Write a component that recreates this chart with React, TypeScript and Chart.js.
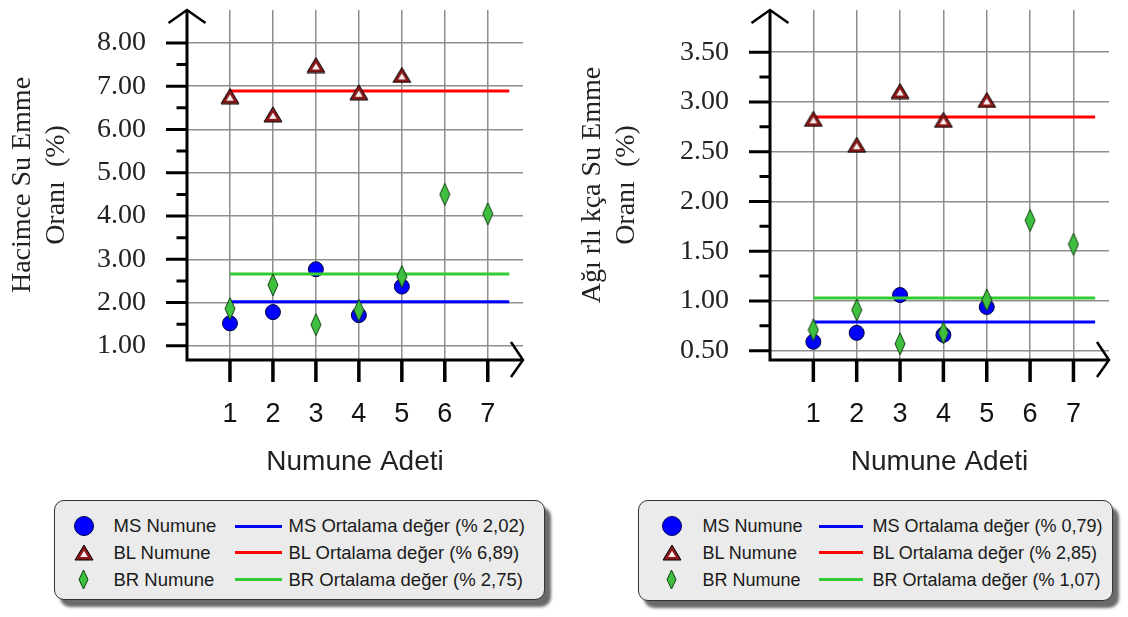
import React, { useEffect, useRef } from 'react';
import { Chart, registerables } from 'chart.js';

Chart.register(...registerables);

// ---------------- DATA ----------------
const categories = [1, 2, 3, 4, 5, 6, 7];
const meanLineSpan = [1, 7.5];

// Left chart: Hacimce Su Emme Oranı (%)
const volMS = [1.52, 1.78, 2.77, 1.71, 2.37];
const volBL = [6.77, 6.35, 7.49, 6.86, 7.26];
const volBR = [1.86, 2.41, 1.49, 1.82, 2.6, 4.5, 4.05];
const volMeanMS = 2.02;
const volMeanBL = 6.89;
const volMeanBR = 2.66;
const volTicks = [1, 2, 3, 4, 5, 6, 7, 8];
const volMinorTicks = [1.5, 2.5, 3.5, 4.5, 5.5, 6.5, 7.5];
const volTitle = ['Hacimce Su Emme', 'Oranı  (%)'];
const volLegend = [
  'MS Numune', 'MS Ortalama değer (% 2,02)',
  'BL Numune', 'BL Ortalama değer (% 6,89)',
  'BR Numune', 'BR Ortalama değer (% 2,75)',
];

// Right chart: Ağırlıkça Su Emme Oranı (%)
const wtMS = [0.59, 0.68, 1.06, 0.66, 0.94];
const wtBL = [2.83, 2.57, 3.11, 2.82, 3.02];
const wtBR = [0.71, 0.91, 0.57, 0.68, 1.01, 1.81, 1.57];
const wtMeanMS = 0.79;
const wtMeanBL = 2.85;
const wtMeanBR = 1.03;
const wtTicks = [0.5, 1, 1.5, 2, 2.5, 3, 3.5];
const wtMinorTicks = [0.75, 1.25, 1.75, 2.25, 2.75, 3.25];
const wtTitle = ['Ağı rlı kça Su Emme', 'Oranı  (%)'];
const wtLegend = [
  'MS Numune', 'MS Ortalama değer (% 0,79)',
  'BL Numune', 'BL Ortalama değer (% 2,85)',
  'BR Numune', 'BR Ortalama değer (% 1,07)',
];

const xTitle = 'Numune Adeti';

// ---------------- STYLE ----------------
const SERIF = "'Liberation Serif', 'Times New Roman', serif";
const SANS = "'Liberation Sans', Arial, sans-serif";
const GRID = '#8e8e8e';
const BLUE = '#0000ff';
const RED = '#ff0000';
const GREEN = '#33cc33';

function makeTriangle(): HTMLCanvasElement {
  const c = document.createElement('canvas');
  c.width = 20; c.height = 17;
  const g = c.getContext('2d')!;
  g.beginPath(); g.moveTo(10, 1); g.lineTo(19, 16); g.lineTo(1, 16); g.closePath();
  g.fillStyle = '#8b1717'; g.fill();
  g.strokeStyle = '#000'; g.lineWidth = 1; g.stroke();
  const cx = 10, cy = 11, k = 0.42;
  const p = [[10, 1], [19, 16], [1, 16]].map(([x, y]) => [cx + (x - cx) * k, cy + (y - cy) * k]);
  g.beginPath(); g.moveTo(p[0][0], p[0][1]); g.lineTo(p[1][0], p[1][1]); g.lineTo(p[2][0], p[2][1]); g.closePath();
  g.fillStyle = '#f4eeee'; g.fill();
  return c;
}

function makeDiamond(): HTMLCanvasElement {
  const c = document.createElement('canvas');
  c.width = 12; c.height = 24;
  const g = c.getContext('2d')!;
  g.beginPath(); g.moveTo(6, 1); g.lineTo(11, 12); g.lineTo(6, 23); g.lineTo(1, 12); g.closePath();
  g.fillStyle = '#3fbf3f'; g.fill();
  g.strokeStyle = '#0e3e0e'; g.lineWidth = 1; g.stroke();
  return c;
}

const axesPlugin = {
  id: 'arrowAxes',
  afterDraw(chart: any, _args: any, opts: any) {
    const { ctx, chartArea } = chart;
    const { left, right, top, bottom } = chartArea;
    const x = chart.scales.x;
    const y = chart.scales.y;
    ctx.save();
    ctx.strokeStyle = '#000';
    ctx.lineWidth = 3;
    ctx.beginPath();
    ctx.moveTo(left, bottom + 1.5); ctx.lineTo(left, top + 1);
    ctx.moveTo(left - 1.5, bottom); ctx.lineTo(right - 1, bottom);
    ctx.stroke();
    ctx.lineWidth = 2.5;
    ctx.lineJoin = 'miter';
    ctx.beginPath();
    ctx.moveTo(left - 18.5, top + 13); ctx.lineTo(left, top); ctx.lineTo(left + 18.5, top + 13);
    ctx.stroke();
    ctx.beginPath();
    ctx.moveTo(right - 12, bottom - 18); ctx.lineTo(right, bottom); ctx.lineTo(right - 12, bottom + 17);
    ctx.stroke();
    ctx.lineWidth = 3.5;
    ctx.beginPath();
    x.ticks.forEach((t: any) => {
      const px = x.getPixelForValue(t.value);
      ctx.moveTo(px, bottom); ctx.lineTo(px, bottom + 22);
    });
    ctx.stroke();
    ctx.lineWidth = 3;
    ctx.beginPath();
    y.ticks.forEach((t: any) => {
      const py = y.getPixelForValue(t.value);
      ctx.moveTo(left - 21, py); ctx.lineTo(left, py);
    });
    (opts.minor || []).forEach((v: number) => {
      const py = y.getPixelForValue(v);
      ctx.moveTo(left - 10.5, py); ctx.lineTo(left, py);
    });
    ctx.stroke();
    ctx.restore();
  },
};

type PanelProps = {
  left: number; width: number; height: number;
  areaLeft: number; padTop: number; padRight: number;
  ms: number[]; bl: number[]; br: number[];
  meanMS: number; meanBL: number; meanBR: number;
  yMin: number; yMax: number; yTicks: number[]; yMinor: number[];
  yTitle: string[];
};

function pts(vals: number[]) {
  return vals.map((v, i) => ({ x: categories[i], y: v }));
}
function meanPts(v: number) {
  return meanLineSpan.map((x) => ({ x, y: v }));
}

function Panel(p: PanelProps) {
  const ref = useRef<HTMLCanvasElement>(null);
  useEffect(() => {
    const tri = makeTriangle();
    const dia = makeDiamond();
    const chart = new Chart(ref.current!, {
      type: 'scatter',
      data: {
        datasets: [
          { label: 'MS Numune', data: pts(p.ms), pointStyle: 'circle', pointRadius: 7.5, backgroundColor: BLUE, borderColor: '#00003a', borderWidth: 1, order: 3 },
          { label: 'MS Ortalama', data: meanPts(p.meanMS), showLine: true, borderColor: BLUE, borderWidth: 3, pointRadius: 0, order: 2 },
          { label: 'BL Ortalama', data: meanPts(p.meanBL), showLine: true, borderColor: RED, borderWidth: 3, pointRadius: 0, order: 2 },
          { label: 'BR Ortalama', data: meanPts(p.meanBR), showLine: true, borderColor: GREEN, borderWidth: 3, pointRadius: 0, order: 2 },
          { label: 'BL Numune', data: pts(p.bl), pointStyle: tri as any, pointRadius: 9, order: 1 },
          { label: 'BR Numune', data: pts(p.br), pointStyle: dia as any, pointRadius: 9, order: 0 },
        ] as any,
      },
      options: {
        animation: false,
        responsive: false,
        devicePixelRatio: 1,
        layout: { padding: { top: p.padTop, right: p.padRight, left: 0, bottom: 0 } },
        plugins: { legend: { display: false }, tooltip: { enabled: false }, arrowAxes: { minor: p.yMinor } } as any,
        scales: {
          x: {
            type: 'linear', min: 0, max: 7.82,
            afterBuildTicks: (s: any) => { s.ticks = categories.map((v) => ({ value: v })); },
            afterFit: (s: any) => { s.height = 130; s.paddingLeft = 0; s.paddingRight = 0; s.paddingTop = 0; s.paddingBottom = 0; },
            grid: { color: GRID, lineWidth: 1.5, drawTicks: false },
            border: { display: false },
            ticks: { padding: 38, autoSkip: false, maxRotation: 0, color: '#111', font: { family: SANS, size: 27 }, callback: (v: any) => String(v) },
            title: { display: true, text: xTitle, color: '#222', font: { family: SANS, size: 28 }, padding: { top: 0, bottom: 11 } },
          },
          y: {
            type: 'linear', min: p.yMin, max: p.yMax,
            afterBuildTicks: (s: any) => { s.ticks = p.yTicks.map((v) => ({ value: v })); },
            afterFit: (s: any) => { s.width = p.areaLeft; s.paddingLeft = 0; s.paddingRight = 0; s.paddingTop = 0; s.paddingBottom = 0; },
            grid: { color: GRID, lineWidth: 1.5, drawTicks: false },
            border: { display: false },
            ticks: { padding: 41, autoSkip: false, color: '#222', font: { family: SERIF, size: 28 }, callback: (v: any) => Number(v).toFixed(2) },
            title: { display: true, text: p.yTitle, color: '#222', font: { family: SERIF, size: 28, lineHeight: 1.2 }, padding: { top: 6, bottom: 0 } },
          },
        },
      } as any,
      plugins: [axesPlugin],
    });
    return () => chart.destroy();
  }, []);
  return (
    <canvas
      ref={ref}
      width={p.width}
      height={p.height}
      style={{ position: 'absolute', left: p.left, top: 0, width: p.width, height: p.height }}
    />
  );
}

type LegendProps = {
  left: number; top: number; width: number; height: number;
  markerX: number; text1X: number; lineX1: number; lineX2: number; text2X: number;
  fontSize: number; labels: string[];
};

const rowCenters = [26.7, 53, 80];

function Marker({ kind }: { kind: number }) {
  if (kind === 0) {
    return (
      <svg width={22} height={22}><circle cx={11} cy={11} r={9.5} fill={BLUE} stroke="#000050" strokeWidth={1} /></svg>
    );
  }
  if (kind === 1) {
    return (
      <svg width={20} height={17}>
        <polygon points="10,1 19,16 1,16" fill="#8b1717" stroke="#000" strokeWidth={1} />
        <polygon points="10,6.8 13.8,13.1 6.2,13.1" fill="#f4eeee" />
      </svg>
    );
  }
  return (
    <svg width={11} height={21}><polygon points="5.5,1 10,10.5 5.5,20 1,10.5" fill="#3fbf3f" stroke="#0e3e0e" strokeWidth={1} /></svg>
  );
}

function Legend(l: LegendProps) {
  const lineColors = [BLUE, RED, GREEN];
  const sizes = [[22, 22], [20, 17], [11, 21]];
  return (
    <div
      style={{
        position: 'absolute', left: l.left, top: l.top, width: l.width, height: l.height,
        boxSizing: 'border-box', border: '1.5px solid #333', borderRadius: 10,
        background: '#ebebeb', boxShadow: '6px 7px 3px #6a6a6a',
        fontFamily: SANS, fontSize: l.fontSize, color: '#1a1a1a',
      }}
    >
      {rowCenters.map((cy, i) => (
        <React.Fragment key={i}>
          <div style={{ position: 'absolute', left: l.markerX - sizes[i][0] / 2 - 1.5, top: cy - sizes[i][1] / 2 - 1.5, width: sizes[i][0], height: sizes[i][1], lineHeight: 0 }}>
            <Marker kind={i} />
          </div>
          <div style={{ position: 'absolute', left: l.text1X - 1.5, top: cy - 13.5, height: 24, lineHeight: '24px', whiteSpace: 'nowrap' }}>
            {l.labels[i * 2]}
          </div>
          <div style={{ position: 'absolute', left: l.lineX1 - 1.5, top: cy - 3, width: l.lineX2 - l.lineX1, height: 3, background: lineColors[i] }} />
          <div style={{ position: 'absolute', left: l.text2X - 1.5, top: cy - 13.5, height: 24, lineHeight: '24px', whiteSpace: 'nowrap' }}>
            {l.labels[i * 2 + 1]}
          </div>
        </React.Fragment>
      ))}
    </div>
  );
}

export default function App() {
  return (
    <div style={{ position: 'absolute', left: 0, top: 0, width: 1128, height: 617, background: '#fff', overflow: 'hidden' }}>
      <Panel
        left={0} width={560} height={490} areaLeft={187} padTop={6} padRight={37}
        ms={volMS} bl={volBL} br={volBR}
        meanMS={volMeanMS} meanBL={volMeanBL} meanBR={volMeanBR}
        yMin={0.673} yMax={8.761} yTicks={volTicks} yMinor={volMinorTicks} yTitle={volTitle}
      />
      <Panel
        left={570} width={558} height={490} areaLeft={200} padTop={8.3} padRight={19}
        ms={wtMS} bl={wtBL} br={wtBR}
        meanMS={wtMeanMS} meanBL={wtMeanBL} meanBR={wtMeanBR}
        yMin={0.407} yMax={3.924} yTicks={wtTicks} yMinor={wtMinorTicks} yTitle={wtTitle}
      />
      <Legend
        left={54} top={500} width={491} height={100}
        markerX={30} text1X={60} lineX1={181} lineX2={228} text2X={235}
        fontSize={18.5} labels={volLegend}
      />
      <Legend
        left={638} top={500} width={475} height={101}
        markerX={34} text1X={65} lineX1={181} lineX2={225} text2X={235}
        fontSize={18} labels={wtLegend}
      />
    </div>
  );
}
